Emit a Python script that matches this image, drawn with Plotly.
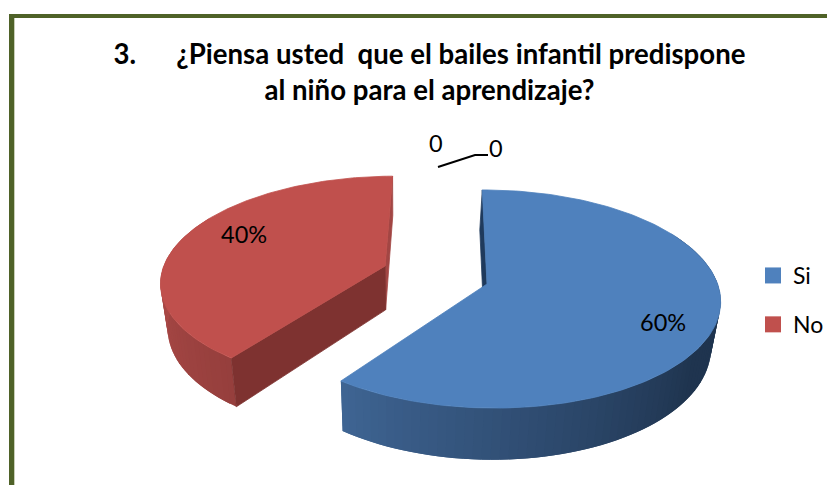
import math
import plotly.graph_objects as go

categories = ["Si", "No", "", " "]
values = [60, 40, 0, 0]
label_text = ["60%", "40%", "0", "0"]
title_text = "3.\u00a0\u00a0\u00a0\u00a0\u00a0\u00a0¿Piensa usted\u00a0 que el bailes infantil predispone<br>al niño para el aprendizaje?"

BLUE, RED = "#4F81BD", "#C0504D"
OLIVE = "#4F6228"
VX, CY, A, B, K, M, X0 = 448.0, 284.0, 229.0, 107.0, 0.1376, -0.006, 39.0 / 229.0
EXPLODE = [(0.0, 0.0), (-0.452, 0.1733)]
PAGE = 8  # the page body's own margin, so the axes start at this pixel
FIG_W, FIG_H = 835 - PAGE, 485 - PAGE


def project(X, Y):
    w = 1 + K * Y + M * X
    return VX + A * (X + X0) / w, CY - B * Y / w, w


def lower(X, Y):
    sx, sy, w = project(X, Y)
    return 400 + (sx - 400) * 0.97, sy + 3 + 42 / w


def rim(c, t):
    r = math.radians(t)
    return c[0] + math.sin(r), c[1] + math.cos(r)


def mix(c1, c2, t):
    t = max(0.0, min(1.0, t))
    return "rgb(%d,%d,%d)" % tuple(round(a + (b - a) * t) for a, b in zip(c1, c2))


fig = go.Figure()


def poly(pts, color, lw=0.8):
    fig.add_trace(go.Scatter(
        x=[p[0] for p in pts] + [pts[0][0]],
        y=[p[1] for p in pts] + [pts[0][1]],
        mode="lines", fill="toself", fillcolor=color,
        line=dict(color=color, width=lw),
        hoverinfo="skip", showlegend=False))


total = sum(values)
spans = []
start = 0.0
for v in values[:2]:
    spans.append((start, start + 360.0 * v / total))
    start += 360.0 * v / total


def wall_quad(p, q, color, lw=0.8):
    poly([project(*p)[:2], project(*q)[:2], lower(*q), lower(*p)], color, lw)


def arc_wall(c, t1, t2, colorfn, step=2.0):
    # Each strip runs on under the next one, so no seams show between them.
    t = t1
    while t < t2:
        n = min(t + step * 2, t2)
        wall_quad(rim(c, t), rim(c, n), colorfn(t), 0)
        t += step


def top_face(c, t1, t2, color):
    n = 160
    pts = [project(*c)[:2]]
    for i in range(n + 1):
        pts.append(project(*rim(c, t1 + (t2 - t1) * i / n))[:2])
    poly(pts, color)


# Red slice
c = EXPLODE[1]
t1, t2 = spans[1]
wall_quad(rim(c, t2), c, "#A24644")
arc_wall(c, t1, 300, lambda t: mix((0x96, 0x3F, 0x3D), (0xB2, 0x4D, 0x4A), (t - t1) / 70))
wall_quad(c, rim(c, t1), "#7E3230")
top_face(c, t1, t2, RED)

# Blue slice
c = EXPLODE[0]
t1, t2 = spans[0]
wall_quad(rim(c, t1), c, "#1F3A5C")
arc_wall(c, 60, t2, lambda t: mix((0x1F, 0x34, 0x4F), (0x3F, 0x65, 0x94), (t - 125) / (t2 - 125)))
top_face(c, t1, t2, BLUE)

# Legend entries
for name, color in zip(categories[:2], [BLUE, RED]):
    fig.add_trace(go.Scatter(
        x=[None], y=[None], mode="markers", name=name, legendgroup=name,
        marker=dict(symbol="square", size=16, color=color)))

ann = dict(showarrow=False, xref="x", yref="y", font=dict(family="Lato", size=23.5, color="#000000"))
fig.add_annotation(x=663, y=322, text=label_text[0], **ann)
fig.add_annotation(x=244, y=234, text=label_text[1], **ann)
fig.add_annotation(x=436, y=143, text=label_text[2], **ann)
fig.add_annotation(x=496, y=148, text=label_text[3], **ann)

fig.update_layout(
    width=FIG_W, height=FIG_H,
    margin=dict(l=0, r=0, t=0, b=0),
    paper_bgcolor="white", plot_bgcolor="white",
    title=dict(text=title_text, x=(429.5 - PAGE) / FIG_W, xanchor="center",
               y=1 - (64 - PAGE) / FIG_H, yanchor="top",
               font=dict(family="Lato", size=27.6, color="#000000", weight="bold")),
    xaxis=dict(range=[PAGE, 835], visible=False, fixedrange=True),
    yaxis=dict(range=[485, PAGE], visible=False, fixedrange=True),
    legend=dict(x=(753 - PAGE) / FIG_W, y=1 - (254 - PAGE) / FIG_H, xanchor="left", yanchor="top",
                font=dict(family="Lato", size=23, color="#000000"),
                tracegroupgap=16, bgcolor="rgba(0,0,0,0)"),
    shapes=[
        dict(type="rect", xref="x", yref="y", x0=14, x1=15, y0=18, y1=485,
             fillcolor="#C9CFB8", line=dict(width=0), layer="above"),
        dict(type="rect", xref="x", yref="y", x0=9, x1=14, y0=14, y1=485,
             fillcolor=OLIVE, line=dict(width=0), layer="above"),
        dict(type="rect", xref="x", yref="y", x0=9, x1=835, y0=14, y1=18,
             fillcolor=OLIVE, line=dict(width=0), layer="above"),
        dict(type="path", xref="x", yref="y", path="M438,167 L475,155 L488,155",
             line=dict(color="#000000", width=2)),
    ],
)
fig.write_html("out.html")
